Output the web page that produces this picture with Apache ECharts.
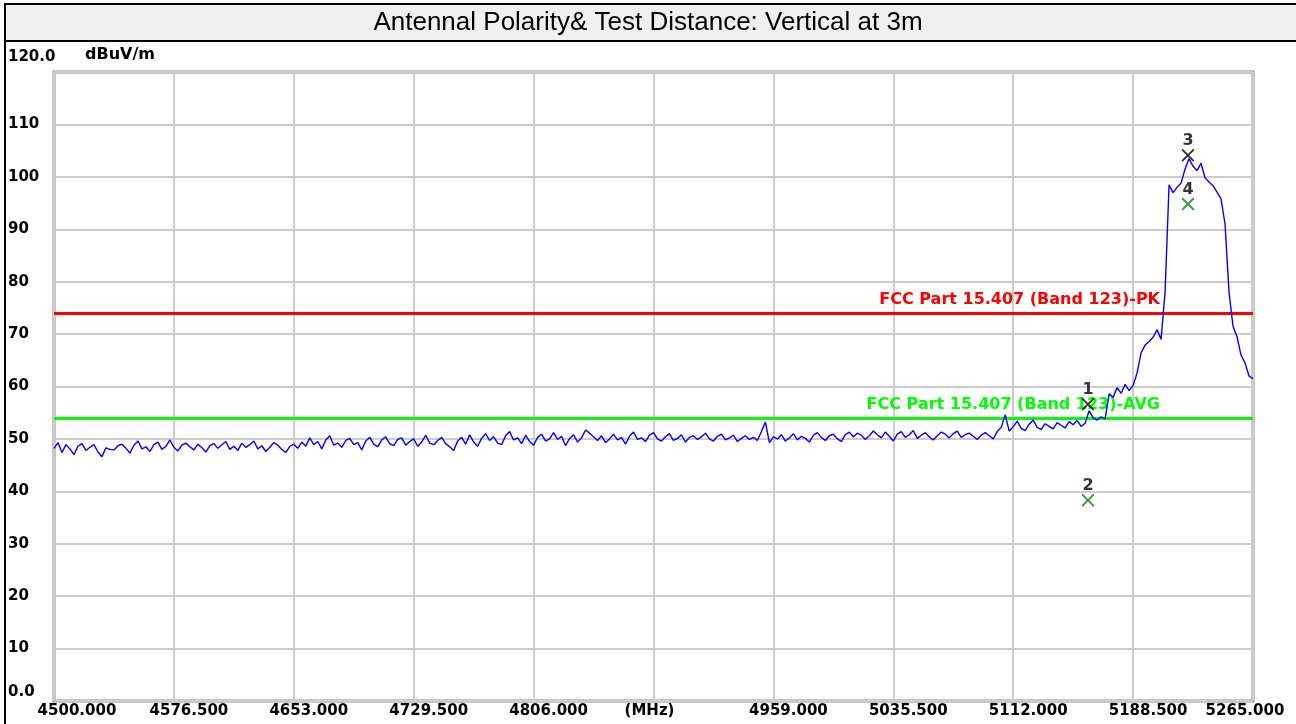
<!DOCTYPE html>
<html>
<head>
<meta charset="utf-8">
<title>Antennal Polarity & Test Distance</title>
<script src="https://cdn.jsdelivr.net/npm/echarts@6/dist/echarts.min.js"></script>
<style>
  html, body { margin: 0; padding: 0; background: #fff; }
  #chart { width: 1296px; height: 724px; }
</style>
</head>
<body>
<div id="chart"></div>
<script>
// sweep: 4500 - 5265 MHz, one reading every 2.55 MHz
var freqStart = 4500;
var freqStop = 5265;
var freqStep = 2.55;

var level = [
  48.2, 49.3, 47.4, 48.9, 48.1, 47.0, 48.6, 49.1, 47.8, 48.4,
  48.9, 47.5, 46.6, 48.3, 48.0, 47.9, 48.7, 49.0, 48.2, 47.3,
  48.8, 49.6, 48.1, 48.5, 47.6, 48.9, 49.4, 48.0, 48.6, 49.8,
  48.4, 47.7, 48.8, 49.2, 48.5, 47.9, 49.0, 48.3, 47.5, 48.7,
  49.1, 48.2, 48.9, 49.5, 48.0, 48.6, 47.8, 49.2, 48.4, 48.9,
  49.6, 48.1, 48.7, 47.6, 48.4, 49.3, 48.8, 48.0, 47.4, 48.6,
  49.0, 48.2,
  49.4, 48.6, 50.2, 48.9, 49.5, 48.1, 49.8, 50.6, 48.8, 49.2,
  48.4, 49.7, 50.1, 48.9, 49.3, 47.9, 49.6, 50.3, 49.0, 48.5,
  49.8, 50.4, 49.1, 48.7, 49.9, 50.2, 48.8, 49.5, 50.0, 48.6,
  49.4, 50.7, 49.2, 48.9, 49.7, 50.3, 49.1, 48.5,
  47.8, 49.6, 50.3, 49.0, 50.8, 49.4, 48.6, 50.1, 51.0, 49.7,
  50.4, 49.2, 48.9, 50.6, 51.4, 49.8, 50.2, 49.1, 50.7, 49.5,
  48.8, 50.3, 50.9, 49.6, 50.0, 51.2, 49.9, 50.5, 48.7, 50.1,
  50.8, 49.4, 50.2, 51.7, 51.1, 50.4, 49.7, 50.6, 49.3, 50.0,
  50.9, 49.8, 50.3, 49.0, 50.5, 51.3, 49.9, 50.2, 49.5, 50.7,
  51.2, 50.0, 49.6, 50.4, 51.0, 49.7, 50.1, 50.8, 49.4, 50.3,
  50.6, 49.9, 50.4, 51.1, 50.0, 49.6, 50.5, 50.9, 49.8, 50.2,
  50.7, 49.5, 50.1, 50.6, 49.9, 50.3, 49.7, 51.4, 53.2, 49.3,
  50.4, 50.0, 50.8, 49.6, 50.2, 51.0, 49.8, 50.5, 50.1, 49.4,
  50.7, 51.2, 50.3, 49.7, 50.6, 50.9, 50.0, 49.5, 50.8, 51.3,
  50.4, 51.1, 50.7, 49.9, 50.6, 51.5, 50.8, 50.2, 51.3, 50.5,
  49.6, 50.9, 51.4, 50.3, 50.8, 51.6, 50.1, 50.7, 51.2, 50.4,
  49.8, 50.6, 51.3, 50.9, 50.2, 51.0, 51.5, 50.3, 50.8, 51.1,
  50.5, 49.9, 50.7, 51.2, 50.6, 50.0, 51.4, 52.2,
  54.6,
  51.5, 52.3, 53.4, 52.0, 51.6, 52.8, 53.6, 52.2, 51.8, 52.9,
  52.4, 51.9, 53.1, 52.6, 52.1, 53.3, 52.7, 53.5, 52.4, 53.0,
  55.4, 54.0, 53.6, 54.2, 53.8,
  58.6, 57.9, 59.8, 58.7, 60.4, 59.2,
  60.2, 62.6, 66.4, 67.9, 68.6, 69.4, 70.8,
  69.0, 78.0, 98.5, 97.0, 98.0, 98.8, 101.5, 103.5, 102.0, 101.2,
  102.6, 99.8, 99.0, 98.3, 97.1, 95.8, 91.0, 78.0, 71.5, 69.5,
  66.0, 64.5, 62.0, 61.5
];

// limit lines
var limitPk = 74;
var limitAvg = 54;

// markers: 1,3 peak (black), 2,4 average (green)
var markerNo = ['1', '2', '3', '4'];
var markerFreq = [5159.7, 5159.7, 5223.5, 5223.5];
var markerLevel = [56.6, 38.3, 104.1, 94.8];
var markerColor = ['#000000', '#008000', '#000000', '#008000'];

var xTickLabels = ['4500.000', '4576.500', '4653.000', '4729.500', '4806.000', '(MHz)',
  '4959.000', '5035.500', '5112.000', '5188.500', '5265.000'];

var chart = echarts.init(document.getElementById('chart'));

var traceData = level.map(function (v, i) {
  return [i * freqStep, v];
});
var markerData = markerNo.map(function (n, i) {
  return {
    value: [markerFreq[i] - freqStart, markerLevel[i]],
    name: n,
    itemStyle: { color: markerColor[i] }
  };
});

var xSym = 'path://M0,1L1,0L5,4L9,0L10,1L6,5L10,9L9,10L5,6L1,10L0,9L4,5Z';
var bold = 'DejaVu Sans';

var option = {
  animation: false,
  backgroundColor: '#ffffff',
  graphic: [
    {
      type: 'rect', z: 0,
      shape: { x: 5, y: 4, width: 1300, height: 730 },
      style: { fill: 'none', stroke: '#000', lineWidth: 2 }
    },
    {
      type: 'rect', z: 1,
      shape: { x: 5, y: 4, width: 1300, height: 37 },
      style: { fill: '#f0f0f0', stroke: '#000', lineWidth: 2 }
    },
    {
      type: 'text', z: 2, left: 'center', top: 10,
      style: {
        text: 'Antennal Polarity& Test Distance: Vertical at 3m',
        font: '26px "Liberation Sans", Arial, sans-serif',
        fill: '#000'
      }
    },
    {
      type: 'text', z: 2, left: 85, top: 47,
      style: {
        text: 'dBuV/m',
        font: 'bold 16px "DejaVu Sans", sans-serif',
        fill: '#000'
      }
    }
  ],
  grid: {
    left: 54, right: 43, top: 72, bottom: 23,
    show: true,
    borderColor: '#8c8c8c',
    borderWidth: 3,
    backgroundColor: '#fff'
  },
  xAxis: {
    type: 'value',
    min: 0,
    max: freqStop - freqStart,
    interval: 76.5,
    axisLine: { show: false },
    axisTick: { show: false },
    splitLine: { show: true, lineStyle: { color: '#cccccc', width: 2 } },
    axisLabel: {
      margin: 3,
      formatter: function (v, idx) {
        var k = Math.round(v / 76.5);
        var t = xTickLabels[k];
        if (k === 0) return '{f|' + t + '}';
        if (k === 10) return '{l|' + t + '}';
        if (k === 5) return '{u|' + t + '}';
        return '{n|' + t + '}';
      },
      rich: {
        n: { fontFamily: bold, fontWeight: 'bold', fontSize: 15, color: '#000', padding: [0, 0, 0, 30] },
        f: { fontFamily: bold, fontWeight: 'bold', fontSize: 15, color: '#000', padding: [0, 0, 0, 46] },
        l: { fontFamily: bold, fontWeight: 'bold', fontSize: 15, color: '#000', padding: [0, 16, 0, 0] },
        u: { fontFamily: bold, fontWeight: 'bold', fontSize: 15, color: '#000', padding: [0, 8, 0, 0] }
      }
    }
  },
  yAxis: {
    type: 'value',
    min: 0,
    max: 120,
    interval: 10,
    axisLine: { show: false },
    axisTick: { show: false },
    splitLine: { show: true, lineStyle: { color: '#cccccc', width: 2 } },
    axisLabel: {
      align: 'left',
      margin: 46,
      formatter: function (v) {
        if (v === 0) return '{b|0.0}';
        if (v === 120) return '{t|120.0}';
        return '{m|' + v + '}';
      },
      rich: {
        m: { fontFamily: bold, fontWeight: 'bold', fontSize: 15, color: '#000', padding: [0, 0, 0, 0] },
        b: { fontFamily: bold, fontWeight: 'bold', fontSize: 15, color: '#000', padding: [0, 0, 18, 0] },
        t: { fontFamily: bold, fontWeight: 'bold', fontSize: 15, color: '#000', padding: [0, 0, 30, 0] }
      }
    }
  },
  series: [
    {
      name: 'trace',
      type: 'line',
      data: traceData,
      showSymbol: false,
      symbol: 'none',
      lineStyle: { color: '#0000ff', width: 1.4 },
      z: 3,
      markLine: {
        silent: true,
        symbol: 'none',
        z: 2,
        data: [
          {
            yAxis: limitPk,
            lineStyle: { color: '#ff0000', width: 3, type: 'solid' },
            label: {
              show: true, position: 'insideEndTop',
              formatter: 'FCC Part 15.407 (Band 123)-PK',
              color: '#ff0000', fontFamily: bold, fontWeight: 'bold', fontSize: 16,
              padding: [0, 88, 0, 0]
            }
          },
          {
            yAxis: limitAvg,
            lineStyle: { color: '#00ff00', width: 3, type: 'solid' },
            label: {
              show: true, position: 'insideEndTop',
              formatter: 'FCC Part 15.407 (Band 123)-AVG',
              color: '#00ff00', fontFamily: bold, fontWeight: 'bold', fontSize: 16,
              padding: [0, 88, 0, 0]
            }
          }
        ]
      }
    },
    {
      name: 'markers',
      type: 'scatter',
      data: markerData,
      symbol: xSym,
      symbolSize: 13,
      z: 5,
      label: {
        show: true,
        position: 'top',
        distance: 0,
        formatter: '{b}',
        color: '#000',
        fontFamily: bold,
        fontWeight: 'bold',
        fontSize: 16
      }
    }
  ]
};

chart.setOption(option);
</script>
</body>
</html>
